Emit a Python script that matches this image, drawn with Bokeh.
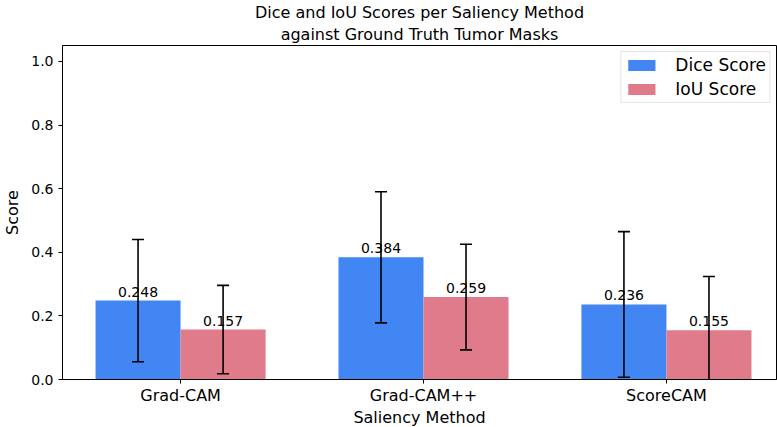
from bokeh.plotting import figure
from bokeh.models import ColumnDataSource, FixedTicker, Whisker, TeeHead, Range1d, LabelSet, Title
from bokeh.core.properties import value
from bokeh.embed import file_html
from bokeh.resources import INLINE

methods = ["Grad-CAM", "Grad-CAM++", "ScoreCAM"]
dice_mean = [0.248, 0.384, 0.236]
dice_std = [0.192, 0.206, 0.229]
iou_mean = [0.157, 0.259, 0.155]
iou_std = [0.139, 0.166, 0.169]
y_ticks = [0.0, 0.2, 0.4, 0.6, 0.8, 1.0]
title_lines = ["Dice and IoU Scores per Saliency Method", "against Ground Truth Tumor Masks"]

FONT = "DejaVu Sans"
width = 0.35
xs = list(range(len(methods)))

p = figure(frame_width=714, frame_height=334, output_backend="svg", toolbar_location=None,
           x_range=Range1d(-0.486, 2.453), y_range=Range1d(0, 1.05),
           min_border_left=54, min_border_right=1, min_border_top=0, min_border_bottom=0)

p.title.text = title_lines[0]
p.title.align = "center"
p.title.text_font = FONT
p.title.text_font_size = "16px"
p.title.text_font_style = "normal"
p.title.text_color = "black"
p.title.offset = 0
p.title.standoff = 0
sub = Title(text=title_lines[1], align="center", text_font=FONT, text_font_size="16px",
            text_font_style="normal", text_color="black", standoff=3)
p.add_layout(sub, "above")

dice_src = ColumnDataSource(dict(
    x=[x - width / 2 for x in xs], top=dice_mean,
    upper=[m + s for m, s in zip(dice_mean, dice_std)],
    lower=[m - s for m, s in zip(dice_mean, dice_std)],
    lbl=[f"{m:.3f}" for m in dice_mean]))
iou_src = ColumnDataSource(dict(
    x=[x + width / 2 for x in xs], top=iou_mean,
    upper=[m + s for m, s in zip(iou_mean, iou_std)],
    lower=[m - s for m, s in zip(iou_mean, iou_std)],
    lbl=[f"{m:.3f}" for m in iou_mean]))

p.vbar(x="x", top="top", width=width, source=dice_src, fill_color="#4286f4",
       line_color=None, legend_label="Dice Score")
p.vbar(x="x", top="top", width=width, source=iou_src, fill_color="#e07b8b",
       line_color=None, legend_label="IoU Score")

for src in (dice_src, iou_src):
    labels = LabelSet(x="x", y="top", text="lbl", source=src, text_align="center",
                      text_baseline="bottom", y_offset=4, text_font=value(FONT),
                      text_font_size="14px", text_color="black", level="overlay")
    p.add_layout(labels)
    w = Whisker(base="x", upper="upper", lower="lower", source=src,
                line_color="black", line_width=1.6, level="overlay",
                upper_head=TeeHead(size=12, line_color="black", line_width=1.6),
                lower_head=TeeHead(size=12, line_color="black", line_width=1.6))
    p.add_layout(w)

p.xaxis.ticker = FixedTicker(ticks=xs)
p.xaxis.major_label_overrides = {i: m for i, m in enumerate(methods)}
p.yaxis.ticker = FixedTicker(ticks=y_ticks)
p.yaxis.major_label_overrides = {t: f"{t:.1f}" for t in y_ticks}
p.xaxis.axis_label = "Saliency Method"
p.yaxis.axis_label = "Score"

for ax in (p.xaxis, p.yaxis):
    ax.axis_label_text_font = FONT
    ax.axis_label_text_font_size = "16px"
    ax.axis_label_text_font_style = "normal"
    ax.axis_label_text_color = "black"
    ax.major_label_text_font = FONT
    ax.major_label_text_color = "black"
    ax.axis_line_color = "black"
    ax.major_tick_line_color = "black"
    ax.major_tick_in = 0
    ax.major_tick_out = 4
    ax.minor_tick_line_color = None
p.xaxis.major_label_text_font_size = "16px"
p.yaxis.major_label_text_font_size = "14px"
p.xaxis.major_label_standoff = 2
p.xaxis.axis_label_standoff = 0
p.yaxis.major_label_standoff = 5
p.yaxis.axis_label_standoff = 6

p.xgrid.grid_line_color = None
p.ygrid.grid_line_color = None
p.outline_line_color = "black"
p.outline_line_width = 1

p.legend.location = "top_right"
p.legend.label_text_font = FONT
p.legend.label_text_font_size = "17px"
p.legend.label_text_color = "black"
p.legend.glyph_width = 34
p.legend.glyph_height = 14
p.legend.border_line_color = "#cccccc"
p.legend.padding = 3
p.legend.spacing = 4
p.legend.margin = 6
p.legend.label_standoff = 17

open("out.html", "w").write(file_html(p, INLINE))
